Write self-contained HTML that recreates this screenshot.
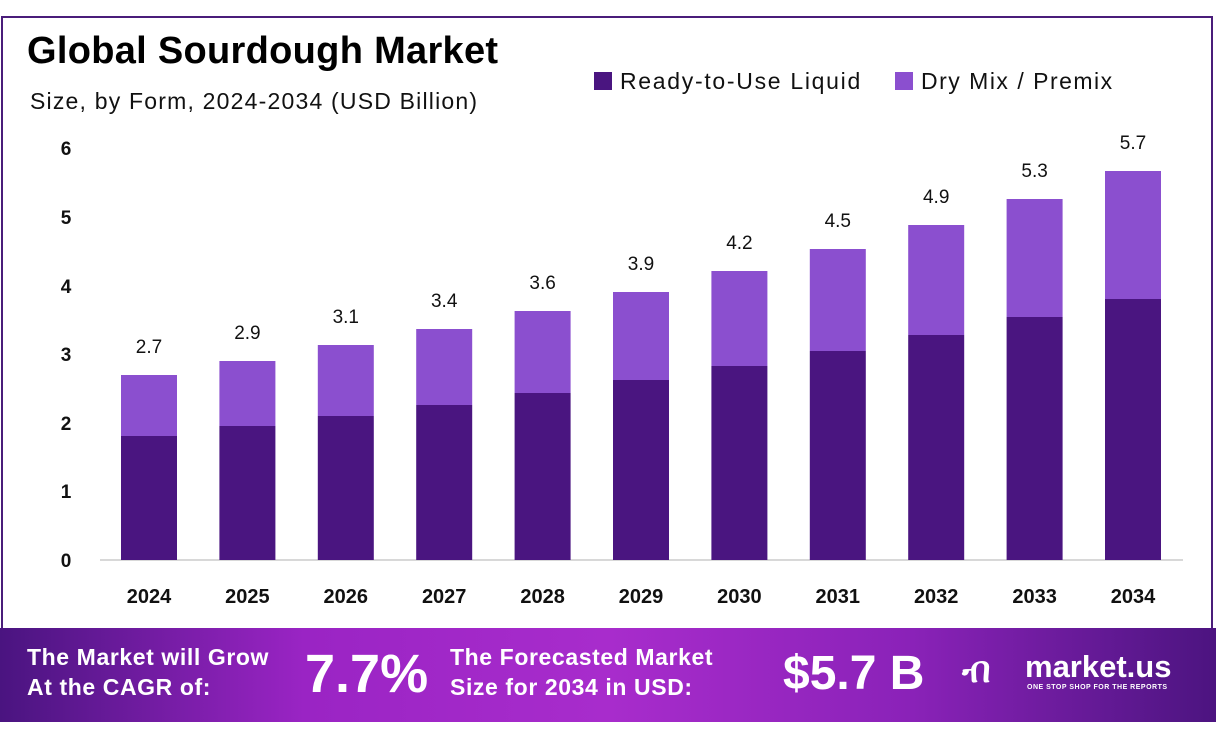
<!DOCTYPE html>
<html><head><style>
body{margin:0;width:1216px;height:738px;background:#fff;position:relative;overflow:hidden;font-family:"Liberation Sans",sans-serif}
.frame{position:absolute;left:1px;top:16px;width:1212px;height:640px;border:2px solid #4a1d7a;border-bottom:none;box-sizing:border-box}
.banner{position:absolute;left:0;top:628px;width:1216px;height:94px;background:linear-gradient(90deg,#4a1480 0%,#9a24c4 25%,#a82ccc 50%,#8a22b8 75%,#4c1480 100%)}
.t{position:absolute;color:#fff;font-weight:bold}
</style></head><body>
<div class="frame"></div>
<div style="position:absolute;left:27px;top:30px;font-size:38px;font-weight:bold;color:#000;letter-spacing:0.3px">Global Sourdough Market</div>
<div style="position:absolute;left:30px;top:88px;font-size:23px;color:#111;letter-spacing:1.2px">Size, by Form, 2024-2034 (USD Billion)</div>
<div style="position:absolute;left:594px;top:72px;width:18px;height:18px;background:#4a1580"></div>
<div style="position:absolute;left:620px;top:68px;font-size:23px;color:#111;letter-spacing:1.7px">Ready-to-Use Liquid</div>
<div style="position:absolute;left:895px;top:72px;width:18px;height:18px;background:#8b4fcf"></div>
<div style="position:absolute;left:921px;top:68px;font-size:23px;color:#111;letter-spacing:1.5px">Dry Mix / Premix</div>
<svg style="position:absolute;left:0;top:0" width="1216" height="628">
<g font-family="Liberation Sans" font-weight="bold" font-size="19" fill="#111" text-anchor="middle">
<text x="66" y="567">0</text><text x="66" y="498">1</text><text x="66" y="430">2</text><text x="66" y="361">3</text><text x="66" y="293">4</text><text x="66" y="224">5</text><text x="66" y="155">6</text>
</g>
<line x1="100" y1="560" x2="1183" y2="560" stroke="#ccc" stroke-width="1.5"/>
<g id="bars"></g>
</svg>
<script>
var d=[436,426,416,405,393,380,366,351,335,317,299],t=[375,361,345,329,311,292,271,249,225,199,171],v=["2.7","2.9","3.1","3.4","3.6","3.9","4.2","4.5","4.9","5.3","5.7"],s="";
for(var i=0;i<11;i++){var c=149+i*98.4,x=c-28;
s+='<rect x="'+x+'" y="'+t[i]+'" width="56" height="'+(d[i]-t[i])+'" fill="#8b4fcf"/>';
s+='<rect x="'+x+'" y="'+d[i]+'" width="56" height="'+(560-d[i])+'" fill="#4a1580"/>';
s+='<text x="'+c+'" y="'+(t[i]-22)+'" text-anchor="middle" font-family="Liberation Sans" font-size="19" fill="#111">'+v[i]+'</text>';
s+='<text x="'+c+'" y="603" text-anchor="middle" font-family="Liberation Sans" font-weight="bold" font-size="20" fill="#111">'+(2024+i)+'</text>';}
document.getElementById("bars").innerHTML=s;
</script>
<div class="banner">
<div class="t" style="left:27px;top:14px;font-size:23px;line-height:30px;letter-spacing:0.6px">The Market will Grow<br>At the CAGR of:</div>
<div class="t" style="left:305px;top:14px;font-size:54px;line-height:64px">7.7%</div>
<div class="t" style="left:450px;top:14px;font-size:23px;line-height:30px;letter-spacing:0.6px">The Forecasted Market<br>Size for 2034 in USD:</div>
<div class="t" style="left:783px;top:16px;font-size:48px;line-height:60px">$5.7 B</div>
<div class="t" style="left:962px;top:22px;font-size:36px;line-height:40px">ብ</div>
<div class="t" style="left:1025px;top:22px;font-size:31px;line-height:34px">market.us</div>
<div class="t" style="left:1027px;top:56px;font-size:7px;letter-spacing:0.5px">ONE STOP SHOP FOR THE REPORTS</div>
</div>
</body></html>
